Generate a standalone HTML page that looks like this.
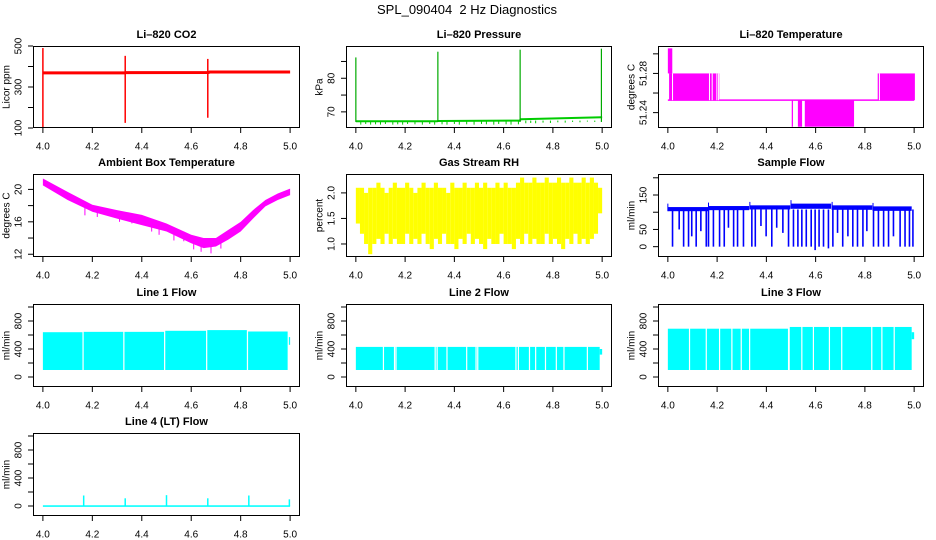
<!DOCTYPE html>
<html><head><meta charset="utf-8">
<style>
html,body{margin:0;padding:0;background:#fff;}
svg{display:block;font-family:"Liberation Sans",Arial,sans-serif;}
</style></head>
<body>
<svg id="chart" width="936" height="540" viewBox="0 0 936 540" xmlns="http://www.w3.org/2000/svg">
<text x="467" y="14" font-size="13" text-anchor="middle">SPL_090404&#160; 2 Hz Diagnostics</text>
</svg>
<script>
// ---------- data ----------
const xTicks = [4.0, 4.2, 4.4, 4.6, 4.8, 5.0];
const xTickLabels = ["4.0", "4.2", "4.4", "4.6", "4.8", "5.0"];

// CO2
const co2BaseX = [4.0, 4.33, 4.335, 4.67, 4.675, 5.0];
const co2BaseY = [369, 369, 370, 371, 373, 373];
const co2SpikeX = [4.0, 4.333, 4.667];
const co2SpikeLo = [105, 125, 150];
const co2SpikeHi = [490, 452, 437];

// Pressure
const presBaseX = [4.0, 4.33, 4.335, 4.665, 4.67, 5.0];
const presBaseY = [67.2, 67.2, 67.3, 67.4, 67.8, 68.4];
const presDipX = [4.02,4.04,4.06,4.08,4.10,4.12,4.15,4.17,4.19,4.21,4.24,4.27,4.30,4.32,4.35,4.37,4.40,4.42,4.45,4.48,4.51,4.53,4.56,4.58,4.61,4.63,4.66,4.69,4.71,4.73,4.76,4.79,4.82,4.85,4.88,4.91,4.94,4.97];
const presDipY = [66.2,66.4,66.2,66.3,66.2,66.4,66.2,66.3,66.2,66.4,66.3,66.2,66.4,66.2,66.3,66.2,66.4,66.2,66.3,66.2,66.4,66.3,66.2,66.4,66.3,66.2,66.3,66.6,66.7,66.6,66.8,66.7,66.9,66.8,67.0,66.9,67.1,67.0];
const presSpikeX = [4.0, 4.333, 4.667, 4.997];
const presSpikeHi = [86.2, 87.9, 88.5, 88.8];

// Li-820 temperature (blocks: x0, x1, lo, hi)
const tempBlockX0 = [4.0, 4.005, 4.503, 4.528, 4.556, 4.852];
const tempBlockX1 = [4.018, 4.209, 4.508, 4.545, 4.756, 5.003];
const tempBlockLo = [51.28, 51.2527, 51.2256, 51.2256, 51.2256, 51.2527];
const tempBlockHi = [51.3056, 51.28, 51.2527, 51.2527, 51.2527, 51.28];
const tempGapX = [4.019, 4.169, 4.180, 4.199, 4.206, 4.859];
const tempGapLo = [51.2527, 51.2527, 51.2527, 51.2527, 51.2527, 51.2527];
const tempGapHi = [51.28, 51.28, 51.28, 51.28, 51.28, 51.28];
const tempBaseX = [4.0, 5.0];
const tempBaseY = [51.2527, 51.2527];

// Ambient box temperature
const ambX = [4.0,4.1,4.2,4.3,4.4,4.5,4.6,4.65,4.7,4.75,4.8,4.85,4.9,4.95,5.0];
const ambHi = [21.35,19.7,18.1,17.45,16.85,15.8,14.4,14.0,14.0,15.0,16.0,17.45,18.7,19.5,20.1];
const ambLo = [20.5,18.7,17.25,16.4,15.6,14.8,13.35,12.75,12.95,13.8,14.8,16.4,17.9,18.7,19.3];
const ambDipX = [4.17,4.22,4.31,4.36,4.44,4.47,4.53,4.57,4.61,4.64,4.68,4.72];
const ambDipY = [16.8,16.6,16.0,15.8,14.8,14.4,13.7,13.6,12.6,12.3,12.1,12.7];

// Gas stream RH (per-bin range)
const rhHi = [2.1,2.1,2.0,2.1,2.1,2.2,2.1,2.0,2.1,2.2,2.1,2.1,2.2,2.1,2.0,2.1,2.2,2.1,2.1,2.2,2.1,2.1,2.0,2.2,2.1,2.1,2.2,2.1,2.1,2.2,2.1,2.2,2.1,2.1,2.2,2.1,2.2,2.1,2.1,2.2,2.3,2.2,2.2,2.3,2.2,2.2,2.3,2.2,2.2,2.3,2.2,2.2,2.3,2.2,2.2,2.3,2.2,2.3,2.2,2.1];
const rhLo = [1.4,1.2,1.0,0.8,1.0,1.1,1.0,1.2,1.0,1.1,1.0,1.0,1.2,1.0,1.1,1.0,1.2,1.0,0.9,1.1,1.0,1.2,1.0,1.0,0.9,1.1,1.0,1.2,1.0,1.1,1.0,0.9,1.1,1.0,1.0,1.2,1.0,1.0,0.9,1.1,1.0,1.2,1.0,1.1,1.0,1.0,1.2,1.0,1.1,1.0,0.9,1.1,1.0,1.2,1.0,1.1,1.0,1.1,1.2,1.6];

// Sample flow
const sfSegX0 = [4.0, 4.165, 4.333, 4.5, 4.667, 4.833];
const sfSegX1 = [4.163, 4.33, 4.497, 4.663, 4.83, 4.99];
const sfSegLo = [103, 106, 108, 110, 107, 104];
const sfSegHi = [115, 118, 120, 125, 120, 117];
const sfDipX = [4.019,4.046,4.064,4.084,4.097,4.115,4.134,4.156,4.165,4.185,4.21,4.229,4.246,4.267,4.283,4.307,4.341,4.355,4.378,4.399,4.422,4.442,4.467,4.49,4.51,4.528,4.544,4.562,4.582,4.598,4.614,4.632,4.652,4.67,4.689,4.71,4.731,4.751,4.77,4.792,4.808,4.835,4.855,4.876,4.896,4.916,4.943,4.963,4.981,4.995];
const sfDipY = [0,50,0,0,30,0,45,0,0,0,0,0,55,0,0,0,0,0,60,30,0,55,40,0,0,0,0,0,0,-10,0,0,-5,0,40,0,30,0,0,0,45,0,0,0,0,30,0,0,0,0];

// Line 1 flow
const l1SegX0 = [4.0, 4.165, 4.33, 4.495, 4.665, 4.83, 4.995];
const l1SegX1 = [4.16, 4.325, 4.49, 4.66, 4.825, 4.99, 5.0];
const l1SegHi = [640, 645, 645, 660, 670, 650, 570];
const l1SegLo = [100, 100, 100, 100, 100, 100, 460];
const l1GapX = [];

// Line 2 flow
const l2SegX0 = [4.0, 4.99];
const l2SegX1 = [4.99, 5.0];
const l2SegHi = [430, 400];
const l2SegLo = [100, 320];
const l2GapX = [4.112,4.157,4.163,4.322,4.33,4.37,4.45,4.488,4.495,4.65,4.66,4.705,4.73,4.77,4.814,4.845,4.94];

// Line 3 flow
const l3SegX0 = [4.0, 4.495, 4.99];
const l3SegX1 = [4.49, 4.99, 5.0];
const l3SegHi = [690, 715, 640];
const l3SegLo = [100, 100, 540];
const l3GapX = [4.088,4.156,4.21,4.26,4.298,4.332,4.49,4.544,4.591,4.656,4.706,4.828,4.869,4.919];

// Line 4 flow
const l4BaseX = [4.0, 5.0];
const l4BaseLo = [-12, -12];
const l4BaseHi = [10, 10];
const l4SpikeX = [4.165, 4.333, 4.5, 4.667, 4.833, 4.997];
const l4SpikeHi = [150, 110, 155, 110, 150, 95];

// ---------- layout ----------
const svg = document.getElementById('chart');
const NS = 'http://www.w3.org/2000/svg';
const colBox = [[33,300],[346,612],[658,924]];
const rowBox = [[46,128],[174,257],[304,387],[433,516]];
const XMIN = 3.96, XMAX = 5.04;

function el(tag, parent){ const e = document.createElementNS(NS, tag); parent.appendChild(e); return e; }
function xs(c){ const [a,b]=colBox[c]; return v => a + (v-XMIN)/(XMAX-XMIN)*(b-a); }
function ys(r, lo, hi){ const [t,b]=rowBox[r]; return v => b - (v-lo)/(hi-lo)*(b-t); }

function panel(name, title, r, c, ylo, yhi, ticks, tickLabels, ylab){
  const g = el('g', svg);
  
  
  const [L,R] = colBox[c], [T,B] = rowBox[r];
  const X = xs(c), Y = ys(r, ylo, yhi);
  const t = el('text', g);
  
  
  t.setAttribute('x', (L+R)/2); t.setAttribute('y', T-8);
  t.setAttribute('font-size', '11'); t.setAttribute('font-weight', 'bold');
  t.setAttribute('text-anchor', 'middle'); t.textContent = title;
  const plot = el('g', g);
  
  
  const clip = el('clipPath', g); clip.setAttribute('id', 'clip-' + name);
  const cr = el('rect', clip); cr.setAttribute('x', L); cr.setAttribute('y', T); cr.setAttribute('width', R-L); cr.setAttribute('height', B-T);
  plot.setAttribute('clip-path', 'url(#clip-' + name + ')');
  const ax = el('g', g);
  
  
  xTicks.forEach((v,i) => {
    const ln = el('line', ax);
    
    
    ln.setAttribute('x1', X(v)); ln.setAttribute('x2', X(v)); ln.setAttribute('y1', B); ln.setAttribute('y2', B+5);
    ln.setAttribute('stroke', '#000');
    const tx = el('text', ax);
    
    
    tx.setAttribute('x', X(v)); tx.setAttribute('y', B+21.5); tx.setAttribute('font-size', '10');
    tx.setAttribute('text-anchor', 'middle'); tx.textContent = xTickLabels[i];
  });
  const ay = el('g', g);
  
  
  ticks.forEach((v,i) => {
    const ln = el('line', ay);
    
    
    ln.setAttribute('x1', L-5); ln.setAttribute('x2', L); ln.setAttribute('y1', Y(v)); ln.setAttribute('y2', Y(v));
    ln.setAttribute('stroke', '#000');
    if (tickLabels[i] !== '') {
      const tx = el('text', ay);
      
      
      tx.setAttribute('transform', 'translate(' + (L-14) + ',' + Y(v) + ') rotate(-90)');
      tx.setAttribute('font-size', '10'); tx.setAttribute('text-anchor', 'middle');
      tx.setAttribute('dominant-baseline', 'middle'); tx.textContent = tickLabels[i];
    }
  });
  const yl = el('text', g);
  
  
  yl.setAttribute('transform', 'translate(' + (L-26) + ',' + (T+B)/2 + ') rotate(-90)');
  yl.setAttribute('font-size', '10'); yl.setAttribute('text-anchor', 'middle');
  yl.setAttribute('dominant-baseline', 'middle'); yl.textContent = ylab;
  const box = el('rect', g);
  
  
  box.setAttribute('x', L+0.5); box.setAttribute('y', T+0.5); box.setAttribute('width', R-L-1); box.setAttribute('height', B-T-1);
  box.setAttribute('fill', 'none'); box.setAttribute('stroke', '#000');
  return {g: plot, X, Y};
}
function vline(p, x, lo, hi, color, w, nm){
  const ln = el('line', p.g);
  
  
  ln.setAttribute('x1', p.X(x)); ln.setAttribute('x2', p.X(x));
  ln.setAttribute('y1', p.Y(lo)); ln.setAttribute('y2', p.Y(hi));
  ln.setAttribute('stroke', color); ln.setAttribute('stroke-width', w);
}
function rectD(p, x0, x1, lo, hi, color, nm){
  const rc = el('rect', p.g);
  
  
  const a = p.X(x0), b = p.X(x1), t = p.Y(hi), bt = p.Y(lo);
  rc.setAttribute('x', a); rc.setAttribute('width', Math.max(1, b-a));
  rc.setAttribute('y', t); rc.setAttribute('height', Math.max(1, bt-t));
  rc.setAttribute('fill', color);
}
function polyl(p, xsA, ysA, color, w, nm){
  const pl = el('polyline', p.g);
  
  
  pl.setAttribute('points', xsA.map((x,i) => p.X(x) + ',' + p.Y(ysA[i])).join(' '));
  pl.setAttribute('fill', 'none'); pl.setAttribute('stroke', color); pl.setAttribute('stroke-width', w);
}
function band(p, xsA, hiA, loA, color, nm){
  const pg = el('polygon', p.g);
  
  
  const pts = xsA.map((x,i) => p.X(x) + ',' + p.Y(hiA[i]));
  for (let i = xsA.length-1; i >= 0; i--) pts.push(p.X(xsA[i]) + ',' + p.Y(loA[i]));
  pg.setAttribute('points', pts.join(' ')); pg.setAttribute('fill', color);
}

// CO2
let p = panel('co2', 'Li\u2013820 CO2', 0, 0, 100, 500, [100,200,300,400,500], ['100','','300','','500'], 'Licor ppm');
polyl(p, co2BaseX, co2BaseY, '#ff0000', 3, 'co2-line');
co2SpikeX.forEach((x,i) => vline(p, x, co2SpikeLo[i], co2SpikeHi[i], '#ff0000', 1.5, 'co2-spike'));

// Pressure
p = panel('pressure', 'Li\u2013820 Pressure', 0, 1, 65.2, 89.6, [70,75,80,85], ['70','','80',''], 'kPa');
polyl(p, presBaseX, presBaseY, '#00cc00', 2, 'pressure-line');
presDipX.forEach((x,i) => vline(p, x, presDipY[i], 67.4, '#00cc00', 1, 'pressure-dip'));
presSpikeX.forEach((x,i) => vline(p, x, 67, presSpikeHi[i], '#00aa00', 1.2, 'pressure-spike'));

// Li-820 temperature
p = panel('li820-temp', 'Li\u2013820 Temperature', 0, 2, 51.2243, 51.308, [51.24,51.26,51.28,51.30], ['51.24','','51.28',''], 'degrees C');
polyl(p, tempBaseX, tempBaseY, '#ff00ff', 1.5, 'temp-baseline');
tempBlockX0.forEach((x,i) => rectD(p, x, tempBlockX1[i], tempBlockLo[i], tempBlockHi[i], '#ff00ff', 'temp-block'));
tempGapX.forEach((x,i) => vline(p, x, tempGapLo[i], tempGapHi[i], '#ffffff', 1, 'temp-gap'));

// Ambient
p = panel('ambient-temp', 'Ambient Box Temperature', 1, 0, 11.66, 21.9, [12,14,16,18,20], ['12','','16','','20'], 'degrees C');
band(p, ambX, ambHi, ambLo, '#ff00ff', 'ambient-band');
ambDipX.forEach((x,i) => vline(p, x, ambDipY[i], ambDipY[i]+1.2, '#ff00ff', 1, 'ambient-dip'));

// RH
p = panel('rh', 'Gas Stream RH', 1, 1, 0.745, 2.37, [1.0,1.5,2.0], ['1.0','1.5','2.0'], 'percent');
rhHi.forEach((h,i) => { const x0 = 4.0 + i/rhHi.length, x1 = 4.0 + (i+1)/rhHi.length; rectD(p, x0, x1, rhLo[i], h, '#ffff00', 'rh-bar'); });

// Sample flow
p = panel('sample-flow', 'Sample Flow', 1, 2, -30, 211, [0,50,100,150,200], ['0','50','','150',''], 'ml/min');
sfSegX0.forEach((x,i) => { rectD(p, x, sfSegX1[i], sfSegLo[i], sfSegHi[i], '#0000ff', 'sample-flow-segment'); vline(p, x, sfSegLo[i], sfSegHi[i]+10, '#0000ff', 1, 'sample-flow-start'); });
sfDipX.forEach((x,i) => vline(p, x, sfDipY[i], 108, '#0000ff', 1.6, 'sample-flow-dip'));

// Flow panels
const flowTicks = [0,200,400,600,800,1000], flowLabels = ['0','','400','','800',''];
function flowPanel(name, title, r, c, x0, x1, hi, lo, gaps){
  const q = panel(name, title, r, c, -143, 1043, flowTicks, flowLabels, 'ml/min');
  x0.forEach((x,i) => rectD(q, x, x1[i], lo[i], hi[i], '#00ffff', name + '-segment'));
  gaps.forEach(x => vline(q, x, 100, 760, '#ffffff', 1.2, name + '-gap'));
}
flowPanel('line1-flow', 'Line 1 Flow', 2, 0, l1SegX0, l1SegX1, l1SegHi, l1SegLo, l1GapX);
flowPanel('line2-flow', 'Line 2 Flow', 2, 1, l2SegX0, l2SegX1, l2SegHi, l2SegLo, l2GapX);
flowPanel('line3-flow', 'Line 3 Flow', 2, 2, l3SegX0, l3SegX1, l3SegHi, l3SegLo, l3GapX);

p = panel('line4-flow', 'Line 4 (LT) Flow', 3, 0, -143, 1043, flowTicks, flowLabels, 'ml/min');
rectD(p, l4BaseX[0], l4BaseX[1], l4BaseLo[0], l4BaseHi[1], '#00ffff', 'line4-baseline');
l4SpikeX.forEach((x,i) => vline(p, x, 0, l4SpikeHi[i], '#00ffff', 1.5, 'line4-spike'));
</script>
</body></html>
